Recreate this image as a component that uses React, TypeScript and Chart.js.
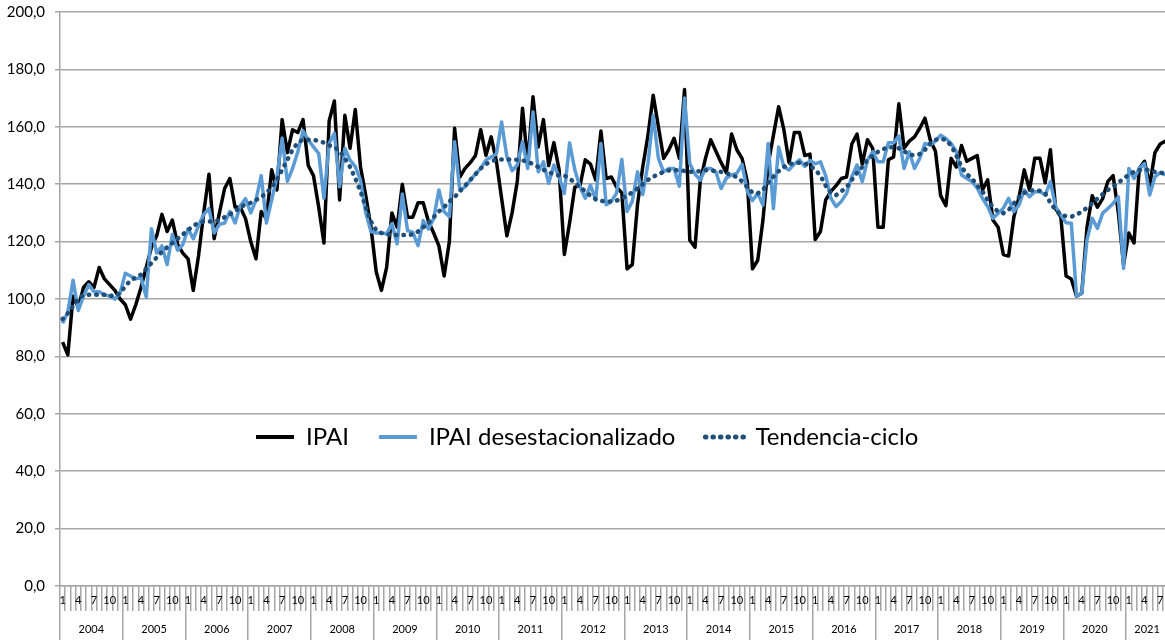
import React, { useEffect, useRef } from 'react';
import { Chart, registerables } from 'chart.js';

Chart.register(...registerables);

// ---------- data ----------
const years = ['2004', '2005', '2006', '2007', '2008', '2009', '2010', '2011', '2012',
  '2013', '2014', '2015', '2016', '2017', '2018', '2019', '2020', '2021'];
const monthTickLabels = ['1', '4', '7', '10'];
const seriesNames = ['IPAI', 'IPAI desestacionalizado', 'Tendencia-ciclo'];

const ipai = [
  85, 80.5, 101, 97, 104, 106, 104, 111, 107, 105, 103, 100, // 2004
  98, 93, 98, 104, 111, 118, 122, 129.5, 123.5, 127.5, 119, 116, // 2005
  114, 103, 115, 130, 143.5, 121, 130, 138.5, 142, 132, 132, 128, // 2006
  120, 114, 130.5, 128, 145, 138, 162.5, 151, 159, 158, 162.5, 146.5, // 2007
  143, 132, 119.5, 162, 169, 134.5, 164, 152.5, 166, 146, 136, 125, // 2008
  109.5, 103, 111, 130, 125, 140, 128.5, 128.5, 133.5, 133.5, 127, 123, // 2009
  118.5, 108, 120, 159.5, 142.5, 145.5, 147.5, 150, 159, 150, 156.5, 148, // 2010
  135, 122, 130, 141, 166.5, 147, 170.5, 153, 162.5, 146.5, 154.5, 145, // 2011
  115.5, 126.5, 139, 139.5, 148.5, 147, 141.5, 158.5, 142, 142.5, 139, 137, // 2012
  110.5, 112, 133, 146, 157, 171, 160, 149, 152, 156, 149, 173, // 2013
  120.5, 118, 141, 149, 155.5, 151.5, 147.5, 144, 157.5, 152, 149, 141, // 2014
  110.5, 113.5, 127.5, 147, 157, 167, 159, 147.5, 158, 158, 150, 150.5, // 2015
  120.7, 123.5, 134.5, 137.5, 139.5, 142, 142.5, 154, 157.5, 147, 155.5, 152.5, // 2016
  125, 125, 148.5, 149.5, 168, 152.5, 155, 156.5, 159.5, 163, 155.5, 151.5, // 2017
  136, 132.5, 149, 146, 153.5, 148, 149, 150, 138, 141.5, 127.5, 125, // 2018
  115.5, 115, 128.5, 135.5, 145, 138, 149, 149, 140.5, 152, 131.5, 128.5, // 2019
  108, 107, 101, 102, 125, 136, 132, 135, 141, 143, 130, 112, // 2020
  123, 119.5, 145.5, 148, 139.5, 151, 154, 155, // 2021
];

const ipaiDesest = [
  91.5, 95.5, 106.5, 96, 101, 105, 102.5, 102.5, 101.5, 101, 100, 102, // 2004
  109, 108, 107, 107.5, 100.7, 124.5, 116, 118.5, 112, 122.5, 117, 119, // 2005
  124.5, 121, 125.5, 129.5, 131.5, 123, 126, 126.5, 130.5, 126.5, 132.5, 135, // 2006
  130, 134.5, 143, 126.5, 134.5, 142.5, 156, 141, 145.5, 151.3, 158.6, 155.4, // 2007
  153, 150.7, 135.1, 154.2, 157.7, 139.1, 152.5, 148.4, 146.1, 141.4, 130, 123.5, // 2008
  123, 123, 122.7, 126.2, 119.2, 136.6, 123.8, 123.3, 118.6, 127.3, 124.4, 128, // 2009
  138, 130.4, 128.7, 154.8, 138, 139, 141.4, 143.5, 145.5, 148.4, 149.5, 150.5, // 2010
  161.7, 149.6, 144.7, 146.7, 154.8, 145.5, 165.2, 144.3, 147.8, 140.3, 146.7, 142.6, // 2011
  136.8, 154.4, 145, 139, 135.1, 139.7, 134.5, 154.2, 132.8, 134, 137, 148.6, // 2012
  130.5, 134, 144.3, 136.4, 147.2, 164, 149, 144.3, 145.5, 145.5, 139.3, 170, // 2013
  147.2, 143.5, 141.4, 145.5, 145.5, 144.3, 138.5, 142.2, 143.2, 143.8, 146.9, 137.6, // 2014
  134.3, 136.8, 132.7, 154.2, 131.5, 153, 146, 145, 147, 148.5, 146.2, 148.3, // 2015
  147.1, 147.8, 143, 135.1, 132.2, 134, 136.8, 142.6, 146.7, 140.9, 148.4, 151.3, // 2016
  147.8, 147.8, 154.4, 154.4, 156.8, 145.5, 151.3, 145.5, 149, 154.2, 153.6, 155, // 2017
  157.1, 155.9, 154.2, 151.3, 143.2, 142, 140.9, 138.6, 135.1, 132.2, 128.1, 129.9, // 2018
  131.6, 135.1, 130.4, 132.8, 138, 135.6, 137.4, 137.4, 136.2, 140.9, 132.2, 129.3, // 2019
  126.6, 126.4, 101, 102, 120.6, 128.1, 124.6, 129.9, 131.5, 133.3, 135.6, 110.7, // 2020
  145.5, 142, 145.5, 147.2, 136.2, 142.6, 144, 143.2, // 2021
];

const tendencia = [
  93, 95, 97.5, 100, 101.5, 101.5, 101.5, 101.5, 101.5, 101.2, 101, 102, // 2004
  104.5, 106.5, 107.5, 108.5, 110.5, 112.5, 114.5, 116.5, 118, 119.5, 121, 122.5, // 2005
  124, 125.5, 126.5, 127, 127, 127, 127.5, 128.5, 129.5, 130.5, 132, 133, // 2006
  133.5, 134.5, 135.5, 137, 139, 141.5, 145, 148.5, 152, 154.5, 155.5, 155.5, // 2007
  155.5, 155, 154.5, 153.5, 153, 151.5, 149, 146, 142, 137.5, 132, 127, // 2008
  124, 123, 122.5, 122.3, 122.3, 122.3, 122.3, 122.5, 123.5, 125, 126.5, 128.5, // 2009
  130.5, 132, 134, 135.5, 137.5, 139.5, 141.5, 143.5, 145.5, 147, 148, 148.5, // 2010
  148.6, 148.6, 148.6, 148.5, 148.3, 147.8, 147, 146, 145, 144.2, 143.5, 143, // 2011
  143, 142, 140.5, 139, 137.5, 136, 134.8, 134.2, 133.9, 134, 134.3, 135, // 2012
  136, 137.2, 138.5, 140, 141.5, 142.6, 143.5, 144.3, 144.8, 144.9, 144.9, 144.6, // 2013
  144.3, 144.4, 144.6, 144.9, 144.8, 144.5, 144.3, 143.8, 143.2, 142.5, 141, 139, // 2014
  137, 136.8, 138, 140.5, 142.6, 144.5, 146, 147, 147.3, 147.5, 147.2, 146.5, // 2015
  145, 143, 139.5, 137, 136.2, 137.5, 139, 141.5, 144, 146, 148.4, 150, // 2016
  151.3, 152.2, 153, 152.8, 152.5, 151.5, 150.3, 150.1, 150.5, 152, 154.2, 155.5, // 2017
  155.9, 155.4, 153.5, 150, 146, 143.5, 142, 139.5, 137.5, 134.5, 132, 130.5, // 2018
  129.9, 131, 133.2, 135.5, 137, 137.7, 138, 137.7, 136.8, 133.5, 131, 129.3, // 2019
  128.9, 128.7, 129.4, 130.4, 131.8, 133.3, 135, 136.5, 138, 139.1, 140.5, 142, // 2020
  143.3, 144.3, 144.9, 145.2, 144.8, 144.3, 144, 143.8, // 2021
];

// ---------- derived tables ----------
const N = ipai.length;
const categories = ipai.map((_, i) => `${years[Math.floor(i / 12)]}-${(i % 12) + 1}`);
const yearBoundaries = years.map((_, k) => k * 12).concat([N]);
const yearCenters = new Map<number, string>(
  years.map((y, k) => [(k * 12 + Math.min(k * 12 + 12, N)) / 2, y] as [number, string])
);
const yearTickValues = [...yearBoundaries, ...Array.from(yearCenters.keys())].sort((a, b) => a - b);

// ---------- styling ----------
const FONT = 'Lato';
const GRID = '#a6a6a6';
const TEXT = '#000000';
const LEGEND_FONT_SIZE = 24;
const LEGEND_PAD = 30;
const LEGEND_START_X = 256;
const LEGEND_CENTER_Y = 437;

// the legend takes no room at the top; it is moved inside the plot before drawing
const legendPlacement = {
  id: 'legendPlacement',
  beforeDraw(chart: any) {
    const lg = chart.legend;
    if (!lg) return;
    lg.left = LEGEND_START_X - LEGEND_PAD;
    lg.right = chart.width;
    lg.top = LEGEND_CENTER_Y - LEGEND_PAD - LEGEND_FONT_SIZE / 2;
    lg.bottom = lg.top + 2 * LEGEND_PAD + LEGEND_FONT_SIZE + 10;
  },
};

export default function App() {
  const ref = useRef<HTMLCanvasElement>(null);

  useEffect(() => {
    if (!ref.current) return;
    const chart = new Chart(ref.current, {
      type: 'line',
      data: {
        labels: categories,
        datasets: [
          {
            label: seriesNames[0],
            data: ipai,
            borderColor: '#000000',
            backgroundColor: '#000000',
            borderWidth: 3.5,
            borderJoinStyle: 'round',
            pointRadius: 0,
            order: 3,
          },
          {
            label: seriesNames[1],
            data: ipaiDesest,
            borderColor: '#5b9bd5',
            backgroundColor: '#5b9bd5',
            borderWidth: 3.5,
            borderJoinStyle: 'round',
            pointRadius: 0,
            order: 2,
          },
          {
            label: seriesNames[2],
            data: tendencia,
            borderColor: '#1f4e79',
            backgroundColor: '#1f4e79',
            borderWidth: 4.5,
            borderDash: [0.5, 7],
            borderCapStyle: 'round',
            pointRadius: 0,
            order: 1,
          },
        ],
      } as any,
      options: {
        responsive: false,
        animation: false,
        devicePixelRatio: 1,
        events: [],
        layout: { padding: { top: 12, left: 0, right: 0, bottom: 0 } },
        plugins: {
          tooltip: { enabled: false },
          legend: {
            position: 'top',
            align: 'start',
            maxHeight: 0.001,
            labels: {
              usePointStyle: true,
              pointStyle: 'line',
              pointStyleWidth: 38,
              padding: LEGEND_PAD,
              color: TEXT,
              font: { family: FONT, size: LEGEND_FONT_SIZE },
              generateLabels: (c: any) =>
                c.data.datasets.map((ds: any, i: number) => ({
                  text: ds.label,
                  datasetIndex: i,
                  fillStyle: ds.borderColor,
                  strokeStyle: ds.borderColor,
                  lineWidth: ds.borderWidth + 0.5,
                  lineDash: ds.borderDash || [],
                  lineCap: ds.borderCapStyle || 'butt',
                  pointStyle: 'line',
                  hidden: false,
                  fontColor: TEXT,
                })),
            },
          },
        },
        scales: {
          x: {
            type: 'category',
            position: 'bottom',
            weight: 0,
            offset: true,
            afterFit: (s: any) => { s.height = 25; },
            grid: {
              offset: true,
              drawOnChartArea: false,
              drawTicks: true,
              tickLength: 25,
              color: GRID,
              lineWidth: 1.5,
            },
            border: { display: true, color: GRID, width: 1.5 },
            ticks: {
              autoSkip: false,
              maxRotation: 0,
              minRotation: 0,
              padding: -17,
              color: TEXT,
              font: { family: FONT, size: 11 },
              callback: (_v: any, i: number) => {
                const m = String((i % 12) + 1);
                return monthTickLabels.includes(m) ? m : '';
              },
            },
          },
          year: {
            type: 'linear',
            position: 'bottom',
            weight: 1,
            min: 0,
            max: N,
            afterBuildTicks: (s: any) => { s.ticks = yearTickValues.map((v) => ({ value: v })); },
            afterFit: (s: any) => { s.height = 29; },
            grid: {
              drawOnChartArea: false,
              drawTicks: true,
              tickLength: 29,
              lineWidth: 1.5,
              color: (ctx: any) =>
                ctx.tick && yearBoundaries.includes(ctx.tick.value) ? GRID : 'rgba(0,0,0,0)',
            },
            border: { display: false },
            ticks: {
              autoSkip: false,
              maxRotation: 0,
              minRotation: 0,
              padding: -17,
              color: TEXT,
              font: { family: FONT, size: 11 },
              callback: (v: any) => yearCenters.get(Number(v)) ?? '',
            },
          },
          y: {
            type: 'linear',
            min: 0,
            max: 200,
            afterFit: (s: any) => {
              s.width = 60;
              s.paddingTop = 0;
              s.paddingBottom = 0;
            },
            grid: { color: GRID, lineWidth: 1.5, drawTicks: true, tickLength: 5 },
            border: { display: true, color: GRID, width: 1.5 },
            ticks: {
              stepSize: 20,
              padding: 10,
              color: TEXT,
              font: { family: FONT, size: 15 },
              callback: (v: any) => Number(v).toFixed(1).replace('.', ','),
            },
          },
        },
      } as any,
      plugins: [legendPlacement],
    });
    return () => chart.destroy();
  }, []);

  return (
    <div
      style={{
        position: 'fixed',
        left: 0,
        top: 0,
        width: 1165,
        height: 640,
        overflow: 'hidden',
        background: '#ffffff',
      }}
    >
      <canvas ref={ref} width={1168} height={640} style={{ display: 'block', width: 1168, height: 640 }} />
    </div>
  );
}
